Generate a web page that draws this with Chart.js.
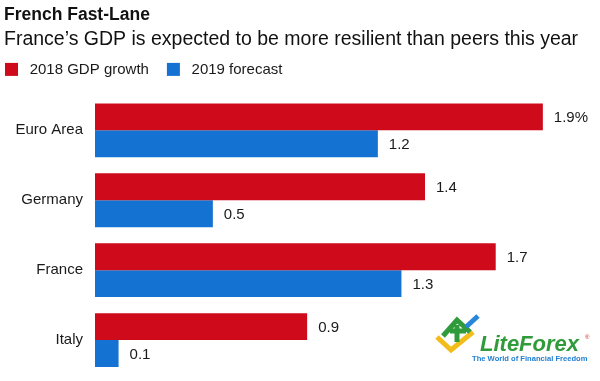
<!DOCTYPE html>
<html>
<head>
<meta charset="utf-8">
<script src="https://cdn.jsdelivr.net/npm/chart.js@4.4.1/dist/chart.umd.min.js"></script>
<style>
html,body{margin:0;padding:0;background:#fff;}
#wrap{position:relative;width:600px;height:381px;}
</style>
</head>
<body>
<div id="wrap"><canvas id="c" width="600" height="381"></canvas></div>
<script>
const categories = ["Euro Area", "Germany", "France", "Italy"];
const gdp2018 = [1.9, 1.4, 1.7, 0.9];
const forecast2019 = [1.2, 0.5, 1.3, 0.1];
const labels2018 = ["1.9%", "1.4", "1.7", "0.9"];
const labels2019 = ["1.2", "0.5", "1.3", "0.1"];
const seriesNames = ["2018 GDP growth", "2019 forecast"];

const FONT = "'Liberation Sans', Arial, Helvetica, sans-serif";

const valueLabels = {
  id: 'valueLabels',
  afterDatasetsDraw(chart) {
    const ctx = chart.ctx;
    const texts = [labels2018, labels2019];
    ctx.save();
    ctx.font = "15px " + FONT;
    ctx.fillStyle = "#1a1a1a";
    ctx.textBaseline = "middle";
    ctx.textAlign = "left";
    chart.data.datasets.forEach((ds, di) => {
      const meta = chart.getDatasetMeta(di);
      meta.data.forEach((bar, i) => {
        ctx.fillText(texts[di][i], bar.x + 11, bar.y + 1);
      });
    });
    ctx.restore();
  }
};

const legendShift = {
  id: 'legendShift',
  afterLayout(chart) {
    const lg = chart.legend;
    if (!lg) return;
    lg.left -= 17; lg.right -= 17;
    lg.top -= 8.5; lg.bottom -= 8.5;
  }
};

const logo = {
  id: 'logo',
  afterDraw(chart) {
    const ctx = chart.ctx;
    ctx.save();
    ctx.lineCap = "butt";
    ctx.lineJoin = "miter";
    ctx.lineWidth = 5;
    ctx.strokeStyle = "#f2bc1b";
    ctx.beginPath();
    ctx.moveTo(437, 337);
    ctx.lineTo(451, 350);
    ctx.lineTo(473, 332);
    ctx.stroke();
    ctx.strokeStyle = "#2f9b3a";
    ctx.beginPath();
    ctx.moveTo(443, 336);
    ctx.lineTo(457, 320);
    ctx.lineTo(470, 332);
    ctx.moveTo(457, 325);
    ctx.lineTo(457, 342);
    ctx.moveTo(450, 331);
    ctx.lineTo(466, 331);
    ctx.stroke();
    ctx.strokeStyle = "#2a86d8";
    ctx.beginPath();
    ctx.moveTo(466, 327);
    ctx.lineTo(478, 316);
    ctx.stroke();
    ctx.fillStyle = "#2f9b3a";
    ctx.font = "italic bold 22px " + FONT;
    ctx.textBaseline = "alphabetic";
    ctx.fillText("LiteForex", 480, 351);
    ctx.fillStyle = "#1f7fd3";
    ctx.font = "bold 7.6px " + FONT;
    ctx.fillText("The World of Financial Freedom", 472, 361);
    ctx.fillStyle = "#d0202a";
    ctx.font = "6px " + FONT;
    ctx.fillText("®", 585, 339);
    ctx.restore();
  }
};

new Chart(document.getElementById('c'), {
  type: 'bar',
  data: {
    labels: categories,
    datasets: [
      { label: seriesNames[0], data: gdp2018, backgroundColor: "#cf0b1b", borderWidth: 0,
        categoryPercentage: 0.77, barPercentage: 1.0 },
      { label: seriesNames[1], data: forecast2019, backgroundColor: "#1473d2", borderWidth: 0,
        categoryPercentage: 0.77, barPercentage: 1.0 }
    ]
  },
  options: {
    indexAxis: 'y',
    responsive: false,
    animation: false,
    devicePixelRatio: 1,
    layout: { padding: { left: 4, right: 10, top: 0, bottom: 6 } },
    scales: {
      x: { display: false, min: 0, max: 2.1 },
      y: {
        grid: { display: false, drawTicks: false },
        border: { display: false },
        ticks: { color: "#1a1a1a", font: { family: FONT, size: 15 }, padding: 12 },
        afterFit(scale) { scale.width = 91; scale.paddingTop = 0; scale.paddingBottom = 0; }
      }
    },
    plugins: {
      title: {
        display: true, text: "French Fast-Lane", align: 'start',
        color: "#111", font: { family: FONT, size: 17.5, weight: 'bold', lineHeight: 1.2 },
        padding: { top: 5, bottom: 0 }
      },
      subtitle: {
        display: true, text: "France\u2019s GDP is expected to be more resilient than peers this year",
        align: 'start', color: "#111", font: { family: FONT, size: 19.5, lineHeight: 1.2 },
        padding: { top: 2, bottom: 1 }
      },
      legend: {
        display: true, align: 'start',
        labels: {
          boxWidth: 13, boxHeight: 13, padding: 18, color: "#1a1a1a",
          font: { family: FONT, size: 15 },
          generateLabels(chart) {
            const items = Chart.defaults.plugins.legend.labels.generateLabels(chart);
            items.forEach(it => { it.text = " " + it.text; });
            return items;
          }
        }
      },
      tooltip: { enabled: false }
    }
  },
  plugins: [valueLabels, legendShift, logo]
});
</script>
</body>
</html>
